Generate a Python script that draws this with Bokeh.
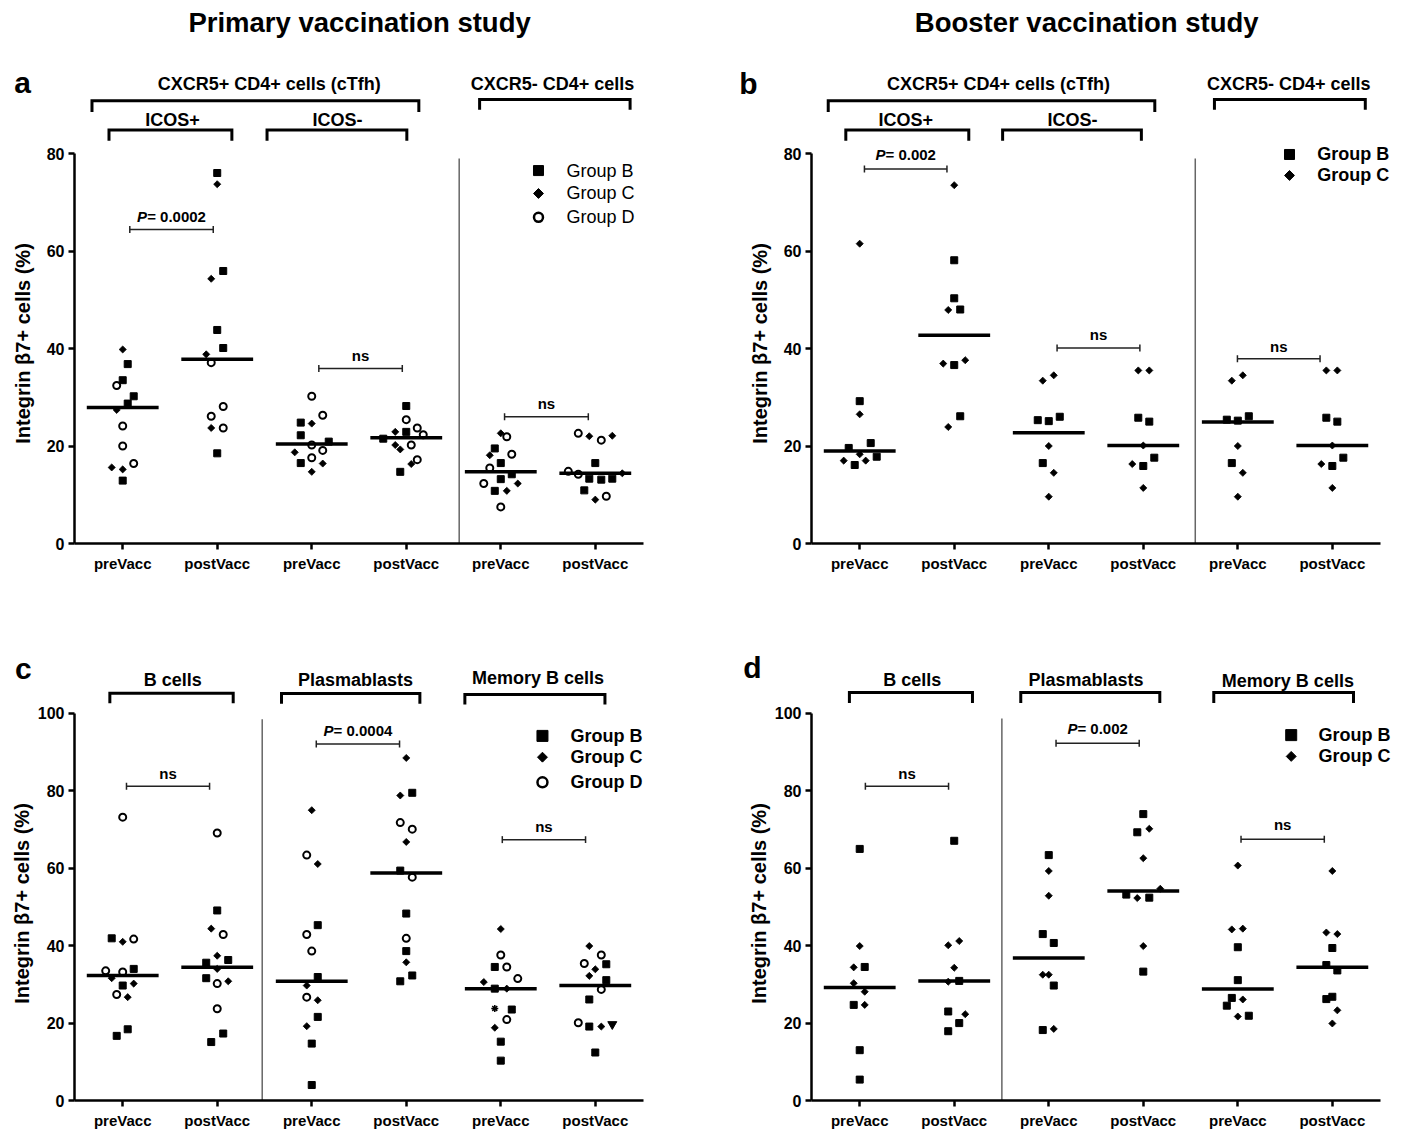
import numpy as np
from bokeh.plotting import figure
from bokeh.models import Range1d, FixedTicker, ColumnDataSource
from bokeh.layouts import column, row
from bokeh.embed import file_html
from bokeh.resources import INLINE
from bokeh.core.properties import value

FONT = "Liberation Sans"
X_LABELS = ["preVacc", "postVacc", "preVacc", "postVacc", "preVacc", "postVacc"]
Y_LABEL = "Integrin \u03b27+ cells (%)"
GROUPS = ["Group B", "Group C", "Group D"]
TITLES = ["Primary vaccination study", "Booster  vaccination study"]
LETTERS = ["a", "b", "c", "d"]

# ---------------- Panel a (primary, T cells) ----------------
A_B_CAT = [0, 0, 0, 0, 0, 1, 1, 1, 1, 1, 2, 2, 2, 2, 3, 3, 3, 3, 4, 4, 4, 4, 4, 5, 5, 5, 5, 5]
A_B_VAL = [36.8, 33.5, 30.2, 28.7, 12.9, 76.0, 55.9, 43.8, 40.1, 18.5, 24.8, 22.2, 20.9, 16.5,
           28.2, 22.9, 21.5, 14.7, 19.5, 16.5, 14.2, 13.2, 10.8, 16.5, 13.3, 13.1, 13.3, 10.9]
A_B_DX = [5, 0, 11, 5, 0, 0, 6, 0, 6, 0, -11, -11, 17, -11, 0, 0, -23, -6, -6, 0, 11, 0, -6, 0, -6, 6, 17, -11]
A_C_CAT = [0, 0, 0, 0, 1, 1, 1, 1, 2, 2, 2, 2, 3, 3, 3, 3, 4, 4, 4, 4, 5, 5, 5, 5]
A_C_VAL = [39.8, 27.4, 15.6, 15.2, 73.7, 54.3, 38.8, 23.7, 24.6, 18.7, 16.4, 14.7,
           22.9, 20.2, 19.3, 16.3, 22.6, 18.1, 12.3, 10.8, 22.0, 22.1, 14.4, 9.0]
A_C_DX = [0, -6, -11, 0, 0, -6, -11, -6, 0, -17, 11, 0, -11, -11, -6, 5, 0, -11, 17, 6, -6, 17, 27, 0]
A_D_CAT = [0, 0, 0, 0, 1, 1, 1, 1, 2, 2, 2, 2, 2, 3, 3, 3, 3, 3, 4, 4, 4, 4, 4, 5, 5, 5, 5, 5]
A_D_VAL = [32.4, 24.1, 20.0, 16.4, 37.1, 28.1, 26.1, 23.7, 30.2, 26.3, 20.2, 19.1, 17.6,
           25.4, 23.7, 22.3, 20.2, 17.2, 21.9, 18.3, 15.5, 12.3, 7.5, 22.6, 21.2, 14.8, 14.2, 9.7]
A_D_DX = [-6, 0, 0, 11, -6, 6, -6, 6, 0, 11, 0, 11, 0, 0, 11, 17, 5, 11, 6, 11, -11, -17, 0, -17, 6, -27, -17, 11]
A_MED = [27.9, 37.8, 20.4, 21.7, 14.7, 14.4]

# ---------------- Panel b (booster, T cells) ----------------
B_B_CAT = [0, 0, 0, 0, 0, 1, 1, 1, 1, 1, 2, 2, 2, 2, 3, 3, 3, 3, 4, 4, 4, 4, 5, 5, 5, 5]
B_B_VAL = [29.2, 20.6, 19.6, 17.8, 16.1, 58.1, 50.3, 48.0, 36.6, 26.1, 25.3, 25.1, 26.0, 16.5,
           25.8, 25.0, 17.6, 15.9, 25.4, 25.2, 26.1, 16.5, 25.8, 25.0, 17.6, 15.9]
B_B_DX = [0, 11, -11, 17, -5, 0, 0, 6, 0, 6, -11, 0, 11, -6, -5, 6, 11, 0, -11, 0, 11, -6, -6, 5, 11, 0]
B_C_CAT = [0, 0, 0, 0, 0, 1, 1, 1, 1, 1, 2, 2, 2, 2, 2, 3, 3, 3, 3, 3, 4, 4, 4, 4, 4, 5, 5, 5, 5, 5]
B_C_VAL = [61.5, 26.5, 18.3, 17.0, 17.0, 73.5, 47.9, 36.9, 37.6, 23.9, 33.4, 34.5, 20.0, 14.5, 9.6,
           35.5, 35.5, 20.1, 16.3, 11.4, 33.4, 34.5, 20.0, 14.5, 9.6, 35.5, 35.5, 20.1, 16.3, 11.4]
B_C_DX = [0, 0, 0, -16, 6, 0, -6, -11, 11, -6, -6, 5, 0, 5, 0, -5, 6, 0, -11, 0, -6, 5, 0, 5, 0, -6, 5, 0, -11, 0]
B_MED = [19.0, 42.7, 22.7, 20.1, 24.9, 20.1]

# ---------------- Panel c (primary, B cells) ----------------
C_B_CAT = [0, 0, 0, 0, 0, 1, 1, 1, 1, 1, 1, 2, 2, 2, 2, 2, 3, 3, 3, 3, 3, 3, 4, 4, 4, 4, 4, 5, 5, 5, 5, 5]
C_B_VAL = [41.9, 34.0, 29.7, 18.4, 16.7, 49.1, 35.6, 36.3, 31.6, 17.3, 15.1, 45.3, 31.9, 21.6, 14.7, 4.0,
           79.5, 59.4, 48.3, 38.6, 32.3, 30.8, 34.5, 28.9, 23.5, 15.2, 10.3, 35.2, 31.1, 26.1, 19.1, 12.4]
C_B_DX = [-11, 11, 0, 5, -6, 0, -11, 11, -11, 6, -6, 6, 6, 6, 0, 0, 6, -6, 0, 0, 6, -6, -6, -6, 11, 0, 0, 11, 11, -6, -6, 0]
C_C_CAT = [0, 0, 0, 0, 1, 1, 1, 1, 2, 2, 2, 2, 2, 3, 3, 3, 3, 4, 4, 4, 4, 5, 5, 5, 5]
C_C_VAL = [41.0, 31.6, 30.2, 26.7, 44.4, 37.4, 34.0, 30.8, 75.0, 61.1, 29.7, 25.9, 19.2,
           88.5, 78.8, 66.8, 35.7, 44.3, 30.6, 28.9, 18.8, 39.9, 33.9, 32.2, 19.1]
C_C_DX = [0, -11, 11, 5, -6, 0, 0, 11, 0, 6, -5, 6, -5, 0, -6, 0, 0, 0, -17, 6, -6, -6, 0, -6, 6]
C_D_CAT = [0, 0, 0, 0, 0, 1, 1, 1, 1, 2, 2, 2, 2, 3, 3, 3, 3, 4, 4, 4, 4, 5, 5, 5, 5]
C_D_VAL = [73.2, 41.7, 33.5, 33.2, 27.4, 69.1, 42.9, 30.2, 23.7, 63.4, 42.9, 38.6, 26.7,
           71.8, 70.1, 57.7, 41.9, 37.6, 34.5, 31.5, 20.9, 37.6, 35.4, 28.7, 20.1]
C_D_DX = [0, 11, -17, 0, -6, 0, 6, 0, 0, -5, -5, 0, -5, -6, 6, 6, 0, 0, 6, 17, 6, 6, -11, 6, -17]
C_STAR_CAT = [4]
C_STAR_VAL = [23.8]
C_STAR_DX = [-6]
C_TRI_CAT = [5]
C_TRI_VAL = [19.7]
C_TRI_DX = [17]
C_MED = [32.3, 34.4, 30.8, 58.8, 28.9, 29.7]

# ---------------- Panel d (booster, B cells) ----------------
D_B_CAT = [0] * 5 + [1] * 5 + [2] * 5 + [3] * 5 + [4] * 5 + [5] * 5
D_B_VAL = [65.0, 34.5, 24.7, 13.0, 5.4, 67.1, 30.9, 23.0, 20.0, 17.9, 63.4, 43.0, 40.7, 29.7, 18.2,
           74.0, 69.3, 53.2, 52.4, 33.3, 39.6, 31.1, 26.5, 24.5, 21.9, 39.4, 35.0, 33.6, 26.8, 26.2]
D_B_DX = [0, 5, -6, 0, 0, 0, 5, -6, 5, -6, 0, -6, 5, 5, -6, 0, -6, -17, 6, 0, 0, 0, -6, -11, 11, 0, -6, 5, 0, -6]
D_C_CAT = [0] * 5 + [1] * 5 + [2] * 5 + [3] * 5 + [4] * 5 + [5] * 5
D_C_VAL = [39.9, 34.4, 30.3, 28.1, 24.7, 41.2, 40.1, 34.3, 30.7, 22.3, 59.3, 52.9, 32.5, 32.5, 18.5,
           70.2, 62.6, 54.7, 52.3, 39.9, 60.7, 44.2, 44.4, 26.1, 21.7, 59.3, 43.4, 43.0, 23.3, 19.9]
D_C_DX = [0, -6, -6, 5, 5, 5, -6, 0, -6, 11, 0, 0, -6, 0, 5, 6, 0, 17, -6, 0, 0, -6, 5, 5, 0, 0, -6, 5, 5, 0]
D_MED = [29.2, 30.9, 36.8, 54.1, 28.8, 34.4]

# statistics brackets: (x0, x1, y, text_y, text)
A_STATS = [(0.075, 0.958, 64.4, 67.1, "P= 0.0002"), (2.075, 2.958, 35.9, 38.6, "ns"), (4.04, 4.926, 26.0, 28.7, "ns")]
B_STATS = [(0.05, 0.923, 76.8, 79.7, "P= 0.002"), (2.088, 2.964, 40.1, 42.9, "ns"), (3.996, 4.87, 37.9, 40.5, "ns")]
C_STATS = [(0.040, 0.919, 81.2, 84.6, "ns"), (2.048, 2.929, 92.1, 95.7, "P= 0.0004"), (4.016, 4.897, 67.4, 70.8, "ns")]
D_STATS = [(0.060, 0.94, 81.2, 84.6, "ns"), (2.077, 2.957, 92.3, 96.0, "P= 0.002"), (4.034, 4.915, 67.5, 71.2, "ns")]

# population brackets: (text, x0, x1, y_top, y_leg, text_x, text_y)
A_GROUPS = [("CXCR5+ CD4+ cells (cTfh)", -0.325, 3.133, 90.8, 88.5, 1.55, 94.2),
            ("CXCR5- CD4+ cells", 3.776, 5.368, 91.1, 89.0, 4.548, 94.2),
            ("ICOS+", -0.145, 1.155, 84.8, 82.6, 0.526, 86.9),
            ("ICOS-", 1.527, 3.006, 84.8, 82.6, 2.273, 86.9)]
B_GROUPS = [("CXCR5+ CD4+ cells (cTfh)", -0.333, 3.122, 90.8, 88.5, 1.468, 94.2),
            ("CXCR5- CD4+ cells", 3.753, 5.349, 91.1, 89.0, 4.54, 94.2),
            ("ICOS+", -0.147, 1.154, 84.8, 82.6, 0.487, 86.9),
            ("ICOS-", 1.512, 2.98, 84.8, 82.6, 2.251, 86.9)]
C_GROUPS = [("B cells", -0.136, 1.169, 105.2, 102.6, 0.53, 108.5),
            ("Plasmablasts", 1.68, 3.144, 105.1, 102.5, 2.463, 108.5),
            ("Memory B cells", 3.62, 5.102, 104.9, 102.3, 4.393, 109.0)]
D_GROUPS = [("B cells", -0.109, 1.193, 105.4, 102.7, 0.557, 108.6),
            ("Plasmablasts", 1.704, 3.175, 105.4, 102.7, 2.394, 108.6),
            ("Memory B cells", 3.746, 5.224, 105.4, 102.7, 4.53, 108.3)]

PX = 94.52  # pixels per category step
CHAR_W = {"P": 667, "=": 584, " ": 278, "0": 556, "2": 556, "4": 556, ".": 278}

# vertical scales (px per unit) and split positions
TOP_PPU, BOT_PPU = 4.875, 3.9
TOP_ZERO, BOT_ZERO = 543.0, 1103.0        # page y of value 0
TOP_SPLIT, BOT_SPLIT = 143.0, 706.0       # page y where header ends / plot frame starts
TOP_START, BOT_START = 0.0, 590.0         # page y where header starts


def style_text(**kw):
    d = dict(text_font=value(FONT), text_color="black")
    d.update(kw)
    return d


def blank(p):
    p.xgrid.visible = False
    p.ygrid.visible = False
    p.outline_line_color = None
    p.background_fill_color = "white"
    p.border_fill_color = "white"


def make_header(width, left_px, zero, ppu, y0, y1):
    xs = -0.51 - left_px / PX
    xe = xs + width / PX
    vb = (zero - y1) / ppu
    vt = (zero - y0) / ppu
    p = figure(width=width, height=int(round(y1 - y0)), x_range=Range1d(xs, xe), y_range=Range1d(vb, vt),
               output_backend="svg", toolbar_location=None, x_axis_type=None, y_axis_type=None,
               min_border_left=0, min_border_right=0, min_border_top=0, min_border_bottom=0)
    blank(p)
    return p


def make_panel(width, height, left, right, bottom, xmax, ytop, ymax_axis, xstd, ylab_std):
    p = figure(width=width, height=height, x_range=Range1d(-0.51, xmax), y_range=Range1d(0, ytop),
               output_backend="svg", toolbar_location=None,
               min_border_left=left, min_border_right=right, min_border_top=0, min_border_bottom=bottom)
    blank(p)
    xa = p.xaxis[0]
    xa.ticker = FixedTicker(ticks=list(range(6)))
    xa.major_label_overrides = {i: lab for i, lab in enumerate(X_LABELS)}
    xa.bounds = (-0.51, 5.51)
    ya = p.yaxis[0]
    ya.ticker = FixedTicker(ticks=list(range(0, ymax_axis + 1, 20)))
    ya.bounds = (0, ymax_axis)
    for ax in (xa, ya):
        ax.axis_line_width = 2.5
        ax.axis_line_color = "black"
        ax.major_tick_line_width = 2.5
        ax.major_tick_line_color = "black"
        ax.major_tick_out = 6
        ax.major_tick_in = 0
        ax.minor_tick_line_color = None
        ax.major_label_text_font = FONT
        ax.major_label_text_font_style = "bold"
        ax.major_label_text_color = "black"
    xa.major_label_text_font_size = "15px"
    xa.major_label_standoff = xstd
    ya.major_label_text_font_size = "16px"
    ya.major_label_standoff = 4
    ya.axis_label = Y_LABEL
    ya.axis_label_text_font = FONT
    ya.axis_label_text_font_style = "bold"
    ya.axis_label_text_font_size = "20px"
    ya.axis_label_text_color = "black"
    ya.axis_label_standoff = ylab_std
    return p


def add_points(p, cats, vals, dxs, kind):
    x = [c + d / PX for c, d in zip(cats, dxs)]
    src = ColumnDataSource(dict(x=x, y=vals))
    if kind == "B":
        p.scatter("x", "y", source=src, marker="square", size=7, fill_color="black", line_color="black", line_width=1)
    elif kind == "C":
        p.scatter("x", "y", source=src, marker="square", angle=np.pi / 4, size=5, fill_color="black",
                  line_color="black", line_width=0.8)
    elif kind == "D":
        p.scatter("x", "y", source=src, marker="circle", size=7, fill_color="white", line_color="black", line_width=2)
    elif kind == "star":
        p.scatter("x", "y", source=src, marker="asterisk", size=7, line_color="black", line_width=1.5)
    elif kind == "tri":
        p.scatter("x", "y", source=src, marker="inverted_triangle", size=9, fill_color="black", line_color="black")


def add_medians(p, med):
    cats = np.arange(len(med))
    p.segment(x0=cats - 0.38, x1=cats + 0.38, y0=med, y1=med, line_width=3.5, line_color="black")


def add_stats(p, stats, cap):
    for x0, x1, y, ty, txt in stats:
        p.segment(x0=[x0, x0, x1], x1=[x1, x0, x1], y0=[y, y - cap, y - cap], y1=[y, y + cap, y + cap],
                  line_width=1.5, line_color="#222222")
        cx = (x0 + x1) / 2
        if txt.startswith("P"):
            rest = txt[1:]
            fs = 15
            wP = CHAR_W["P"] * fs / 1000.0
            wR = sum(CHAR_W.get(ch, 556) for ch in rest) * fs / 1000.0
            xb = cx + (-(wP + wR) / 2 + wP) / PX
            p.text(x=[xb], y=[ty], text=["P"], text_align="right", text_baseline="middle",
                   **style_text(text_font_size="15px", text_font_style="bold italic"))
            p.text(x=[xb], y=[ty], text=[rest], text_align="left", text_baseline="middle",
                   **style_text(text_font_size="15px", text_font_style="bold"))
        else:
            p.text(x=[cx], y=[ty], text=[txt], text_align="center", text_baseline="middle",
                   **style_text(text_font_size="15px", text_font_style="bold"))


def add_groups(p, groups, size):
    for txt, x0, x1, yt, yl, tx, ty in groups:
        p.line(x=[x0, x0, x1, x1], y=[yl, yt, yt, yl], line_width=3, line_color="black", line_join="miter")
        p.text(x=[tx], y=[ty], text=[txt], text_align="center", text_baseline="middle",
               **style_text(text_font_size=size, text_font_style="bold"))


def add_legend(p, mx, tx, ys, kinds, style, sq, di, ci):
    for y, kind, name in zip(ys, kinds, GROUPS):
        if kind == "B":
            p.scatter(x=[mx], y=[y], marker="square", size=sq, fill_color="black", line_color="black")
        elif kind == "C":
            p.scatter(x=[mx], y=[y], marker="square", angle=np.pi / 4, size=di, fill_color="black", line_color="black")
        else:
            p.scatter(x=[mx], y=[y], marker="circle", size=ci, fill_color="white", line_color="black", line_width=2.5)
        p.text(x=[tx], y=[y], text=[name], text_align="left", text_baseline="middle",
               **style_text(text_font_size="18px", text_font_style=style))


def add_sep(p, x, ytop):
    p.segment(x0=[x], x1=[x], y0=[0], y1=[ytop], line_width=1.5, line_color="#666666")


def add_text(p, x, y, txt, size, baseline="middle"):
    p.text(x=[x], y=[y], text=[txt], text_align="center", text_baseline=baseline,
           **style_text(text_font_size=size, text_font_style="bold"))


# column split between left and right panels (page x)
SPLIT_X = 722
WA, WB = SPLIT_X, 1400 - SPLIT_X
LEFT_A, LEFT_B = 74, 811 - SPLIT_X
RIGHT_A, RIGHT_B = SPLIT_X - 643, 2
TOP_PLOT_H = 447                            # frame 143..543 + bottom border 47
BOT_PLOT_H = 425                            # frame 706..1103 + bottom border 28
TOP_YTOP = (TOP_ZERO - TOP_SPLIT) / TOP_PPU
BOT_YTOP = (BOT_ZERO - BOT_SPLIT) / BOT_PPU

# ---- headers ----
ha = make_header(WA, LEFT_A, TOP_ZERO, TOP_PPU, TOP_START, TOP_SPLIT)
add_groups(ha, A_GROUPS, "18px")
add_text(ha, 2.506, 106.9, TITLES[0], "27.5px")
add_text(ha, -1.06, 94.6, LETTERS[0], "30px", baseline="alphabetic")

hb = make_header(WB, LEFT_B, TOP_ZERO, TOP_PPU, TOP_START, TOP_SPLIT)
add_groups(hb, B_GROUPS, "18px")
add_text(hb, 2.442, 106.9, TITLES[1], "27.5px")
add_text(hb, -1.177, 94.4, LETTERS[1], "30px", baseline="alphabetic")

hc = make_header(WA, LEFT_A, BOT_ZERO, BOT_PPU, BOT_START, BOT_SPLIT)
add_groups(hc, C_GROUPS, "18px")
add_text(hc, -1.05, 111.6, LETTERS[2], "30px", baseline="alphabetic")

hd = make_header(WB, LEFT_B, BOT_ZERO, BOT_PPU, BOT_START, BOT_SPLIT)
add_groups(hd, D_GROUPS, "18px")
add_text(hd, -1.134, 111.9, LETTERS[3], "30px", baseline="alphabetic")

# ---- a ----
pa = make_panel(WA, TOP_PLOT_H, LEFT_A, RIGHT_A, 47, 5.51, TOP_YTOP, 80, 5, 10)
add_sep(pa, 3.56, 79)
add_points(pa, A_B_CAT, A_B_VAL, A_B_DX, "B")
add_points(pa, A_C_CAT, A_C_VAL, A_C_DX, "C")
add_points(pa, A_D_CAT, A_D_VAL, A_D_DX, "D")
add_medians(pa, A_MED)
add_stats(pa, A_STATS, 0.72)
add_legend(pa, 4.399, 4.695, [76.5, 71.8, 66.9], ["B", "C", "D"], "normal", 10, 7, 9)

# ---- b ----
pb = make_panel(WB, TOP_PLOT_H, LEFT_B, RIGHT_B, 47, 5.70, TOP_YTOP, 80, 5, 10)
add_sep(pb, 3.55, 79)
add_points(pb, B_B_CAT, B_B_VAL, B_B_DX, "B")
add_points(pb, B_C_CAT, B_C_VAL, B_C_DX, "C")
add_medians(pb, B_MED)
add_stats(pb, B_STATS, 0.72)
add_legend(pb, 4.547, 4.84, [79.8, 75.5], ["B", "C"], "bold", 10, 7, 9)

# ---- c ----
pc = make_panel(WA, BOT_PLOT_H, LEFT_A, RIGHT_A, 28, 5.51, BOT_YTOP, 100, 5, 2)
add_sep(pc, 1.476, 98.5)
add_points(pc, C_B_CAT, C_B_VAL, C_B_DX, "B")
add_points(pc, C_C_CAT, C_C_VAL, C_C_DX, "C")
add_points(pc, C_D_CAT, C_D_VAL, C_D_DX, "D")
add_points(pc, C_STAR_CAT, C_STAR_VAL, C_STAR_DX, "star")
add_points(pc, C_TRI_CAT, C_TRI_VAL, C_TRI_DX, "tri")
add_medians(pc, C_MED)
add_stats(pc, C_STATS, 0.9)
add_legend(pc, 4.441, 4.738, [94.2, 88.7, 82.2], ["B", "C", "D"], "bold", 11, 7, 10)

# ---- d ----
pd_ = make_panel(WB, BOT_PLOT_H, LEFT_B, RIGHT_B, 28, 5.70, BOT_YTOP, 100, 5, 2)
add_sep(pd_, 1.504, 98.7)
add_points(pd_, D_B_CAT, D_B_VAL, D_B_DX, "B")
add_points(pd_, D_C_CAT, D_C_VAL, D_C_DX, "C")
add_medians(pd_, D_MED)
add_stats(pd_, D_STATS, 0.9)
add_legend(pd_, 4.565, 4.854, [94.4, 88.9], ["B", "C"], "bold", 11, 7, 10)

layout = column(row(ha, hb), row(pa, pb), row(hc, hd), row(pc, pd_))
open("out.html", "w").write(file_html(layout, INLINE))
